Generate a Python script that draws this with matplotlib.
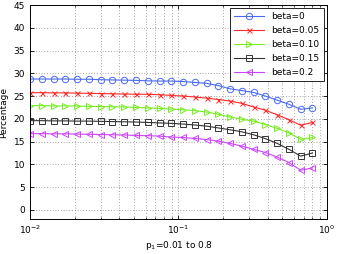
import numpy as np
import matplotlib
matplotlib.use("Agg")
import matplotlib.pyplot as plt

matplotlib.rcParams['font.family'] = ['DejaVu Sans']
matplotlib.rcParams['font.size'] = 6.5

# p1 from 0.01 to 0.8, 25 log-spaced points
p1 = np.logspace(np.log10(0.01), np.log10(0.8), 25)

beta_0 = [28.75, 28.75, 28.75, 28.75, 28.7, 28.7, 28.6, 28.55, 28.5, 28.45,
          28.35, 28.3, 28.3, 28.2, 28.0, 27.8, 27.3, 26.6, 26.2, 25.8,
          25.0, 24.1, 23.2, 22.1, 22.4]
beta_005 = [25.75, 25.75, 25.7, 25.7, 25.65, 25.6, 25.55, 25.5, 25.45, 25.4,
            25.4, 25.3, 25.15, 25.0, 24.8, 24.55, 24.25, 23.9, 23.4, 22.6,
            21.9, 20.9, 19.8, 18.6, 19.2]
beta_010 = [22.9, 22.9, 22.85, 22.85, 22.8, 22.75, 22.7, 22.65, 22.6, 22.5,
            22.4, 22.3, 22.15, 22.0, 21.8, 21.5, 21.0, 20.4, 19.9, 19.5,
            18.75, 17.9, 16.9, 15.5, 15.9]
beta_015 = [19.6, 19.6, 19.55, 19.55, 19.5, 19.5, 19.45, 19.4, 19.35, 19.3,
            19.2, 19.1, 19.0, 18.85, 18.65, 18.4, 18.0, 17.6, 17.15, 16.5,
            15.65, 14.6, 13.3, 11.8, 12.5]
beta_02 = [16.75, 16.75, 16.7, 16.7, 16.65, 16.6, 16.55, 16.5, 16.45, 16.35,
           16.3, 16.2, 16.0, 15.9, 15.7, 15.45, 15.1, 14.6, 14.0, 13.3,
           12.6, 11.6, 10.4, 8.7, 9.2]

series = [
    (beta_0, "beta=0", "#4a6af5", "o", 4.6),
    (beta_005, "beta=0.05", "#ff2a2a", "x", 3.6),
    (beta_010, "beta=0.10", "#77ee22", ">", 4.6),
    (beta_015, "beta=0.15", "#333333", "s", 4.2),
    (beta_02, "beta=0.2", "#cc44ff", "<", 4.6),
]

fig = plt.figure(figsize=(3.38, 2.54), dpi=100, facecolor="white")
ax = fig.add_axes([0.089, 0.138, 0.878, 0.842])

for vals, lab, col, mk, ms in series:
    ax.plot(p1, vals, color=col, marker=mk, markersize=ms, markerfacecolor="none",
            markeredgecolor=col, markeredgewidth=0.7, linewidth=0.8, label=lab)

ax.set_xscale("log")
ax.set_xlim(0.01, 1)
ax.set_ylim(-2, 45)
ax.set_yticks(range(0, 46, 5))
ax.grid(True, which="major", linestyle=(0, (1, 3)), color="#555555", linewidth=0.5)
ax.grid(True, which="minor", axis="x", linestyle=(0, (1, 3)), color="#555555", linewidth=0.5)
ax.tick_params(which="both", direction="in", top=True, right=True, labelsize=6.5)
ax.tick_params(which="major", length=3, width=0.6)
ax.tick_params(which="minor", length=1.5, width=0.5)
for s in ax.spines.values():
    s.set_linewidth(0.7)

ax.set_xlabel("p$_1$=0.01 to 0.8", fontsize=6.5, labelpad=2)
ax.set_ylabel("Percentage", fontsize=6.5, labelpad=4)

leg = ax.legend(loc="upper right", fontsize=6.5, fancybox=False, framealpha=1,
                edgecolor="black", handlelength=3.4, borderpad=0.45,
                labelspacing=0.55, borderaxespad=0.35)
leg.get_frame().set_linewidth(0.6)

fig.savefig("out.png", dpi=100)
